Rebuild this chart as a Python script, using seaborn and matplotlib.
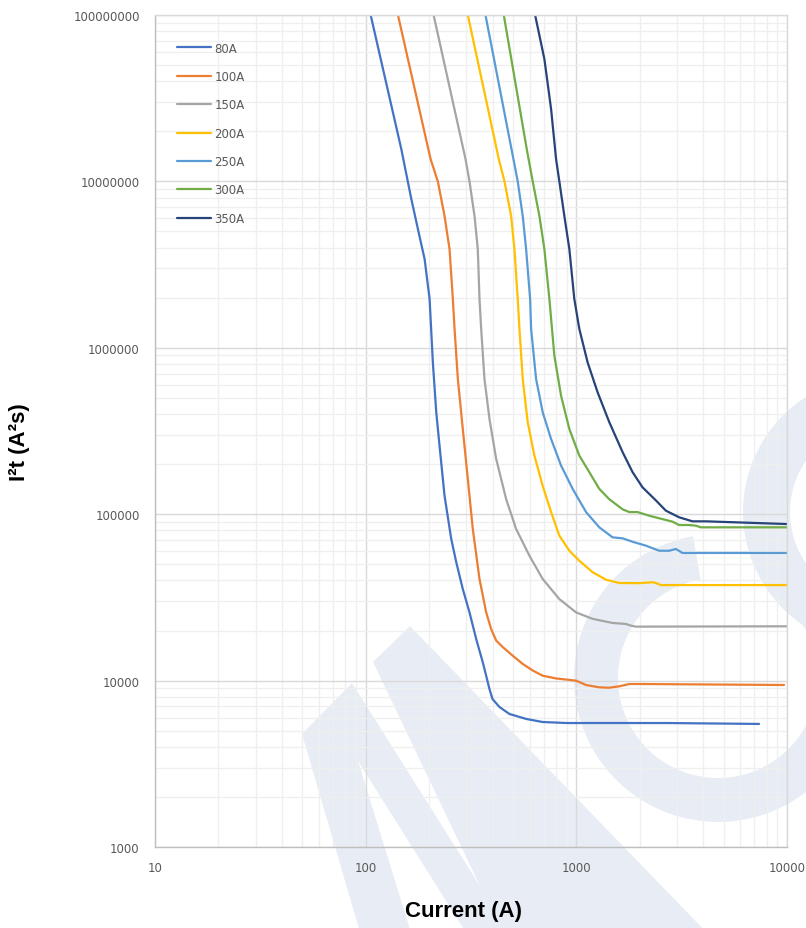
import numpy as np
import pandas as pd
import matplotlib
matplotlib.use("Agg")
import matplotlib.pyplot as plt
import seaborn as sns
from matplotlib import font_manager
from matplotlib.ticker import LogLocator, FixedLocator, FuncFormatter
from matplotlib.patches import Polygon, Wedge
from matplotlib.transforms import Affine2D

# fuse curves: current (A) vs I2t (A2s)
ratings = ["80A", "100A", "150A", "200A", "250A", "300A", "350A"]
colors = ["#4472C4", "#ED7D31", "#A5A5A5", "#FFC000", "#5B9BD5", "#70AD47", "#264478"]

x_80 = [105.6, 147.6, 164.7, 178.3, 190.4, 201.1, 208.4, 216.3, 224.2, 236.8, 254.8, 269.2,
        289.1, 311.1, 334.6, 359.6, 387, 399.9, 431.5, 481.4, 579.4, 690, 897, 2670, 7370]
y_80 = [1e8, 1.566e7, 7.84e6, 4.96e6, 3.42e6, 1.97e6, 8.18e5, 4.10e5, 2.58e5, 1.29e5, 7.10e4, 5.14e4,
        3.55e4, 2.57e4, 1.78e4, 1.29e4, 8900, 7750, 6940, 6300, 5880, 5640, 5560, 5560, 5490]

x_100 = [142.3, 203.3, 220.1, 236.8, 250.1, 259.3, 264.2, 273.9, 289.1, 305.4, 322.5, 347, 373.3, 394.2, 416.4,
         447.5, 499.1, 556.6, 620.8, 692.3, 801.3, 926.5, 996.7, 1112, 1285, 1434, 1599, 1783, 1989, 9680]
y_100 = [1e8, 1.363e7, 1e7, 6.20e6, 3.92e6, 1.97e6, 1.30e6, 6.49e5, 3.25e5, 1.63e5, 8.15e4, 4.08e4, 2.57e4,
         2.04e4, 1.74e4, 1.59e4, 1.41e4, 1.26e4, 1.15e4, 1.07e4, 1.03e4, 1.01e4, 9990, 9410, 9110, 9060, 9240,
         9540, 9540, 9410]

x_150 = [210.1, 297.8, 311.1, 328.6, 340.6, 347, 353.4, 366.4, 387, 416.4, 464.5, 517.9, 598.8, 692.3, 830.5,
         996.7, 1195, 1486, 1720, 1817, 1918, 10000]
y_150 = [1e8, 1.363e7, 1e7, 6.20e6, 3.92e6, 1.97e6, 1.30e6, 6.49e5, 3.73e5, 2.15e5, 1.23e5, 8.15e4, 5.63e4,
         4.08e4, 3.09e4, 2.57e4, 2.35e4, 2.22e4, 2.19e4, 2.14e4, 2.11e4, 2.12e4]

x_200 = [305.4, 428.5, 456, 490.3, 508.3, 527.0, 537, 556.6, 587.8, 632.3, 692.3, 758.9, 830.5, 926.5, 1033,
         1195, 1383, 1599, 1989, 2299, 2386, 2520, 10000]
y_200 = [1e8, 1.363e7, 1e7, 6.20e6, 3.92e6, 1.97e6, 1.30e6, 6.49e5, 3.57e5, 2.25e5, 1.48e5, 1.03e5, 7.43e4,
         6.03e4, 5.25e4, 4.48e4, 4.04e4, 3.86e4, 3.85e4, 3.90e4, 3.86e4, 3.75e4, 3.75e4]

x_250 = [370.4, 502.7, 527.0, 556.6, 577.6, 603.4, 610, 644.2, 692.3, 758.9, 846.3, 960.5, 1112, 1285, 1486,
         1658, 1849, 2139, 2474, 2760, 2969, 3190, 10000]
y_250 = [1e8, 1.363e7, 1e7, 6.20e6, 3.92e6, 1.97e6, 1.30e6, 6.49e5, 4.10e5, 2.83e5, 1.96e5, 1.42e5, 1.03e5,
         8.34e4, 7.26e4, 7.16e4, 6.83e4, 6.47e4, 6.03e4, 6.03e4, 6.18e4, 5.85e4, 5.85e4]

x_300 = [452.4, 581.5, 620.8, 667.8, 705.2, 744.7, 786.5, 846.3, 926.5, 1033, 1152, 1285, 1434, 1658, 1783,
         1952, 2218, 2474, 2861, 3077, 3432, 3693, 3899, 10000]
y_300 = [1e8, 1.566e7, 1e7, 6.20e6, 3.92e6, 1.97e6, 8.96e5, 5.15e5, 3.25e5, 2.25e5, 1.79e5, 1.42e5, 1.23e5,
         1.07e5, 1.03e5, 1.03e5, 9.79e4, 9.45e4, 9.02e4, 8.61e4, 8.61e4, 8.53e4, 8.34e4, 8.34e4]

x_350 = [637.3, 705.2, 758.9, 801.3, 830.5, 877.3, 926.5, 977.9, 1033, 1131, 1262, 1434, 1658, 1849, 2062,
         2386, 2661, 3077, 3557, 4119, 10000]
y_350 = [1e8, 5.44e7, 2.72e7, 1.363e7, 1e7, 6.20e6, 3.92e6, 1.97e6, 1.30e6, 8.18e5, 5.40e5, 3.57e5, 2.36e5,
         1.79e5, 1.45e5, 1.21e5, 1.05e5, 9.58e4, 9.06e4, 9.06e4, 8.73e4]

x_ticks = [10, 100, 1000, 10000]
y_ticks = [1000, 10000, 100000, 1000000, 10000000, 100000000]

xs = [x_80, x_100, x_150, x_200, x_250, x_300, x_350]
ys = [y_80, y_100, y_150, y_200, y_250, y_300, y_350]
frames = []
for r, x, y in zip(ratings, xs, ys):
    frames.append(pd.DataFrame({"current": x, "i2t": y, "rating": r}))
df = pd.concat(frames, ignore_index=True)

sns.set_theme(style="white")
plt.rcParams["font.family"] = ["DejaVu Sans"]

# bold label font
label_font = "DejaVu Sans"
label_size = 14
for f in font_manager.fontManager.ttflist:
    if f.name == "Liberation Sans":
        label_font = "Liberation Sans"
        label_size = 16
        break

fig = plt.figure(figsize=(8.06, 9.29), dpi=100)
ax = fig.add_axes([155 / 806, 1 - 848 / 929, 632 / 806, 832 / 929])
ax.set_facecolor("none")
ax.set_zorder(1)

# faint logo watermark behind the plot
wm = "#e8edf5"
tr = Affine2D().scale(1 / 806, -1 / 929).translate(0, 1) + fig.transFigure
fig.patches.append(Polygon([(362, 940), (302, 735), (352, 684), (480, 887), (373, 663), (410, 627),
                            (713, 940), (470, 940), (358, 762), (413, 940)],
                           closed=True, facecolor=wm, edgecolor="none", transform=tr, zorder=-2))
fig.patches.append(Wedge((718, 679), 144, -40, 260, width=44, facecolor=wm, edgecolor="none",
                         transform=tr, zorder=-2))
fig.patches.append(Wedge((880, 513), 137, 0, 360, width=47, facecolor=wm, edgecolor="none",
                         transform=tr, zorder=-2))

sns.lineplot(data=df, x="current", y="i2t", hue="rating", hue_order=ratings,
             palette=colors, sort=False, estimator=None, units="rating",
             linewidth=1.6, ax=ax)
for ln in ax.lines:
    ln.set_solid_joinstyle("round")

ax.set_xscale("log")
ax.set_yscale("log")
ax.set_xlim(10, 10000)
ax.set_ylim(1000, 100000000)

ax.xaxis.set_major_locator(FixedLocator(x_ticks))
ax.yaxis.set_major_locator(FixedLocator(y_ticks))
ax.xaxis.set_minor_locator(LogLocator(base=10, subs=np.arange(2, 10)))
ax.yaxis.set_minor_locator(LogLocator(base=10, subs=np.arange(2, 10)))
fmt = FuncFormatter(lambda v, _: f"{int(round(v))}")
ax.xaxis.set_major_formatter(fmt)
ax.yaxis.set_major_formatter(fmt)
ax.xaxis.set_minor_formatter(FuncFormatter(lambda v, _: ""))
ax.yaxis.set_minor_formatter(FuncFormatter(lambda v, _: ""))

ax.grid(which="major", color="#d9d9d9", linewidth=1.0)
ax.grid(which="minor", color="#efefef", linewidth=0.9)
ax.set_axisbelow(True)
ax.tick_params(which="both", length=0, colors="#595959", labelsize=8.5)
ax.tick_params(axis="y", pad=11)
ax.tick_params(axis="x", pad=10)
for s in ax.spines.values():
    s.set_color("#d9d9d9")
    s.set_linewidth(1.0)
ax.spines["bottom"].set_color("#bfbfbf")
ax.spines["left"].set_color("#bfbfbf")

ax.set_xlabel("Current (A)", fontsize=label_size, fontweight="bold", color="black", family=label_font)
ax.set_ylabel("I²t (A²s)", fontsize=label_size, fontweight="bold", color="black", family=label_font)
ax.xaxis.set_label_coords(0.488, -0.0637)
ax.yaxis.set_label_coords(-0.197, 0.488)

leg = ax.legend(loc="upper left", bbox_to_anchor=(0.035, 0.968), frameon=False,
                fontsize=8.5, handlelength=2.9, handletextpad=0.25, labelspacing=1.3,
                borderpad=0, borderaxespad=0)
for t in leg.get_texts():
    t.set_color("#595959")

fig.savefig("out.png", dpi=100)
